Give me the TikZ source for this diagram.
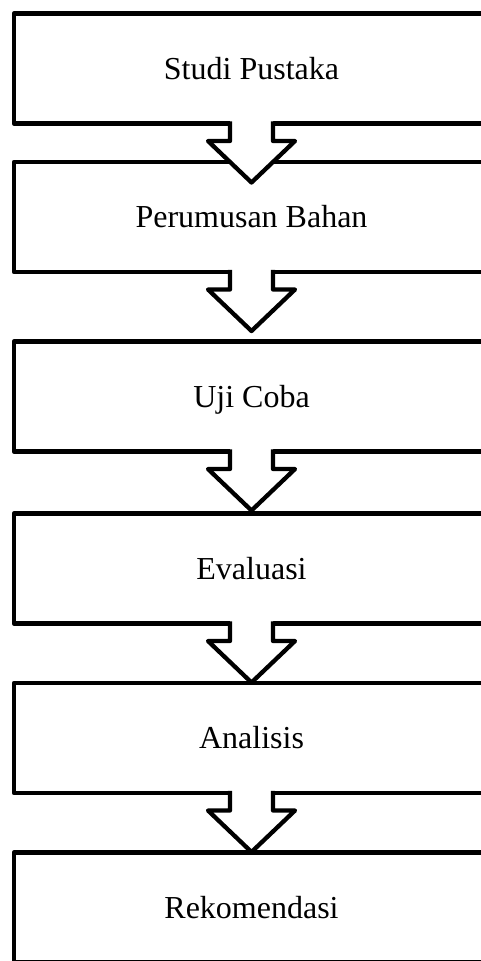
\documentclass[tikz,border=0pt]{standalone}
\usepackage{fontspec}
\setmainfont{Liberation Serif}
\usetikzlibrary{calc}
\tikzset{
  stagebox/.style={draw, line width=4.3pt, line join=round, minimum width=475pt,
    minimum height=110pt, inner sep=0pt, outer sep=0pt, text height=21pt,
    text depth=0pt, font=\fontsize{32}{38}\selectfont},
  blockarrow/.style={draw, line width=4.3pt, line join=round},
  arrowfill/.style={fill=white}
}
\begin{document}
\begin{tikzpicture}[x=1pt, y=-1pt]
\useasboundingbox (0,0) rectangle (480,961);
\node[stagebox] (b1) at (251.5,68.5) {Studi Pustaka};
\node[stagebox] (b2) at (251.5,217) {Perumusan Bahan};
\node[stagebox] (b3) at (251.5,396.5) {Uji Coba};
\node[stagebox] (b4) at (251.5,568.5) {Evaluasi};
\node[stagebox] (b5) at (251.5,738) {Analisis};
\node[stagebox] (b6) at (251.5,907.5) {Rekomendasi};
\foreach \a in {b1,b2,b3,b4,b5} {
  \path[arrowfill] ($(\a.south)+(-21.5,-3.2)$) -- ($(\a.south)+(-21.5,17.5)$)
    -- ($(\a.south)+(-43.5,17.5)$) -- ($(\a.south)+(0,59)$)
    -- ($(\a.south)+(43.5,17.5)$) -- ($(\a.south)+(21.5,17.5)$)
    -- ($(\a.south)+(21.5,-3.2)$) -- cycle;
  \path[blockarrow] ($(\a.south)+(-21.5,-2.15)$) -- ($(\a.south)+(-21.5,17.5)$)
    -- ($(\a.south)+(-43.5,17.5)$) -- ($(\a.south)+(0,59)$)
    -- ($(\a.south)+(43.5,17.5)$) -- ($(\a.south)+(21.5,17.5)$)
    -- ($(\a.south)+(21.5,-2.15)$);
}
\end{tikzpicture}
\end{document}
